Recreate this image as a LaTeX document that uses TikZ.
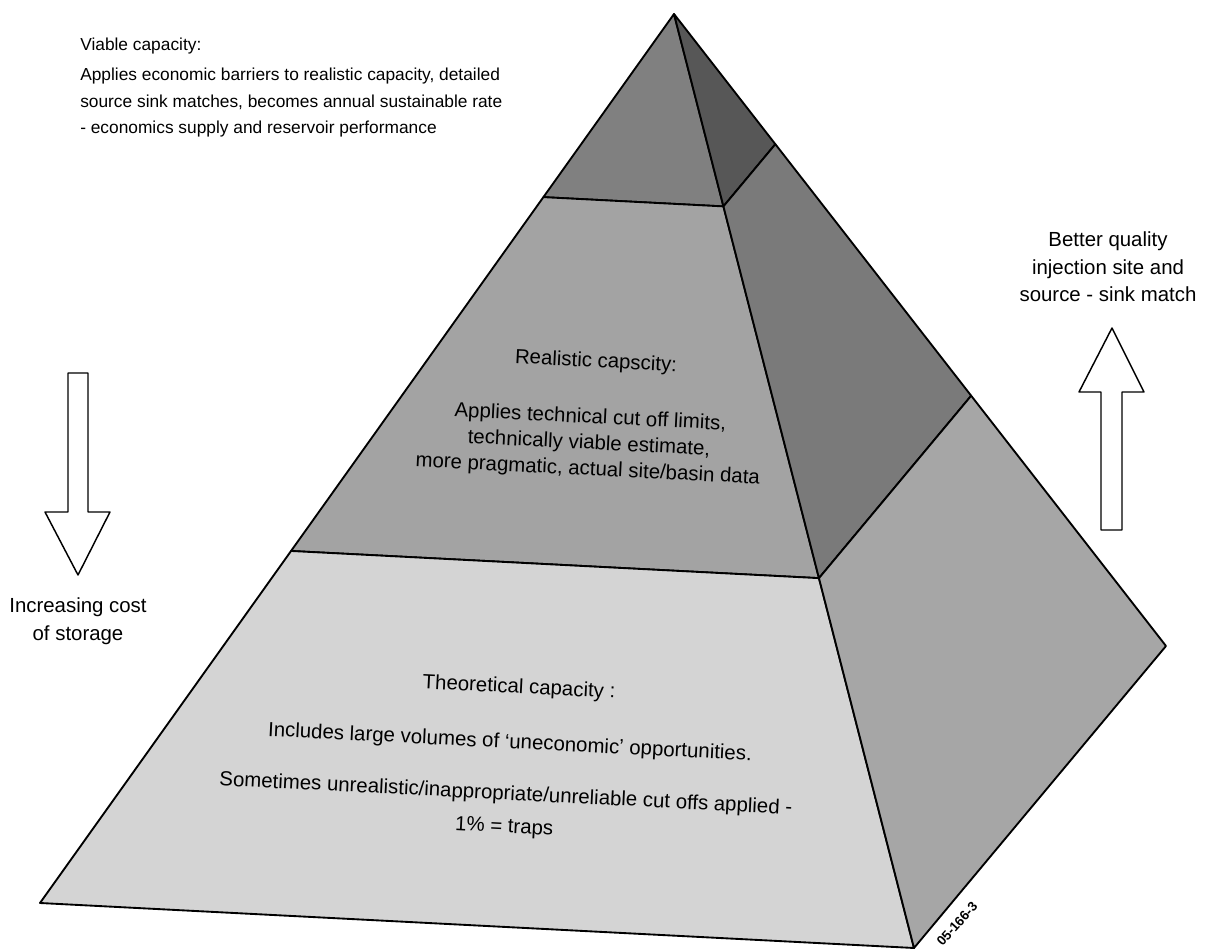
\documentclass[tikz,border=0pt]{standalone}
\usepackage{fontspec}
\setmainfont{Liberation Sans}
\usetikzlibrary{calc}
\definecolor{viablefront}{gray}{0.50}
\definecolor{viableside}{gray}{0.34}
\definecolor{realfront}{gray}{0.64}
\definecolor{realside}{gray}{0.48}
\definecolor{theofront}{gray}{0.83}
\definecolor{theoside}{gray}{0.65}

\begin{document}
\begin{tikzpicture}[x=0.75pt, y=-0.75pt, line join=round,
    face/.style={draw=black, line width=1.4pt},
    blockarrow/.style={draw=black, line width=1.1pt, fill=white},
    sidelabel/.style={font=\fontsize{15.3}{20.7}\selectfont, align=center, inner sep=0pt},
    bandtext/.style={font=\fontsize{15.3}{19.5}\selectfont, align=center, inner sep=0pt, rotate=-2.9}]

    \useasboundingbox (0,0) rectangle (1208,952);

    % corners of the pyramid
    \coordinate (apex) at (674,14);
    \coordinate (bl) at (40,903);
    \coordinate (bf) at (914,948);
    \coordinate (br) at (1166,646);

    % band limits on the three edges
    \foreach \e in {bl,bf,br} {
        \coordinate (\e1) at ($(apex)!0.206!(\e)$);
        \coordinate (\e2) at ($(apex)!0.604!(\e)$);
    }

    % front face
    \filldraw[face, fill=viablefront] (apex) -- (bl1) -- (bf1) -- cycle;
    \filldraw[face, fill=realfront] (bl1) -- (bl2) -- (bf2) -- (bf1) -- cycle;
    \filldraw[face, fill=theofront] (bl2) -- (bl) -- (bf) -- (bf2) -- cycle;

    % side face
    \filldraw[face, fill=viableside] (apex) -- (bf1) -- (br1) -- cycle;
    \filldraw[face, fill=realside] (bf1) -- (bf2) -- (br2) -- (br1) -- cycle;
    \filldraw[face, fill=theoside] (bf2) -- (bf) -- (br) -- (br2) -- cycle;

    % band texts
    \node[anchor=north west, inner sep=0pt, align=left, font=\fontsize{13}{19.9}\selectfont] (viable) at (80,38)
        {Viable capacity:\\[2.6pt]
         Applies economic barriers to realistic capacity, detailed\\
         source sink matches, becomes annual sustainable rate\\
         - economics supply and reservoir performance};

    \node[bandtext] (realhead) at (596,362) {Realistic capscity:};
    \node[bandtext] (realbody) at (589,444)
        {Applies technical cut off limits,\\
         technically viable estimate,\\
         more pragmatic, actual site/basin data};

    \node[bandtext] (theohead) at (519,688) {Theoretical capacity :};
    \node[bandtext] (theoline) at (510,743) {Includes large volumes of ‘uneconomic’ opportunities.};
    \node[bandtext, font=\fontsize{15.3}{24.7}\selectfont] (theocut) at (505,811)
        {Sometimes unrealistic/inappropriate/unreliable cut offs applied -\\
         1\% = traps};

    % cost arrow
    \draw[blockarrow] (68,373) -- (88,373) -- (88,512) -- (110,512) -- (78,575)
        -- (45,512) -- (68,512) -- cycle;
    \node[sidelabel] (cost) at (78,621) {Increasing cost\\of storage};

    % quality arrow
    \draw[blockarrow] (1101,530) -- (1122,530) -- (1122,392) -- (1144,392) -- (1112,328)
        -- (1079,392) -- (1101,392) -- cycle;
    \node[sidelabel] (quality) at (1108,267) {Better quality\\injection site and\\source - sink match};

    \node[rotate=48, inner sep=0pt, font=\fontsize{10}{12}\selectfont\bfseries] (figno) at (957,924) {05-166-3};
\end{tikzpicture}
\end{document}
